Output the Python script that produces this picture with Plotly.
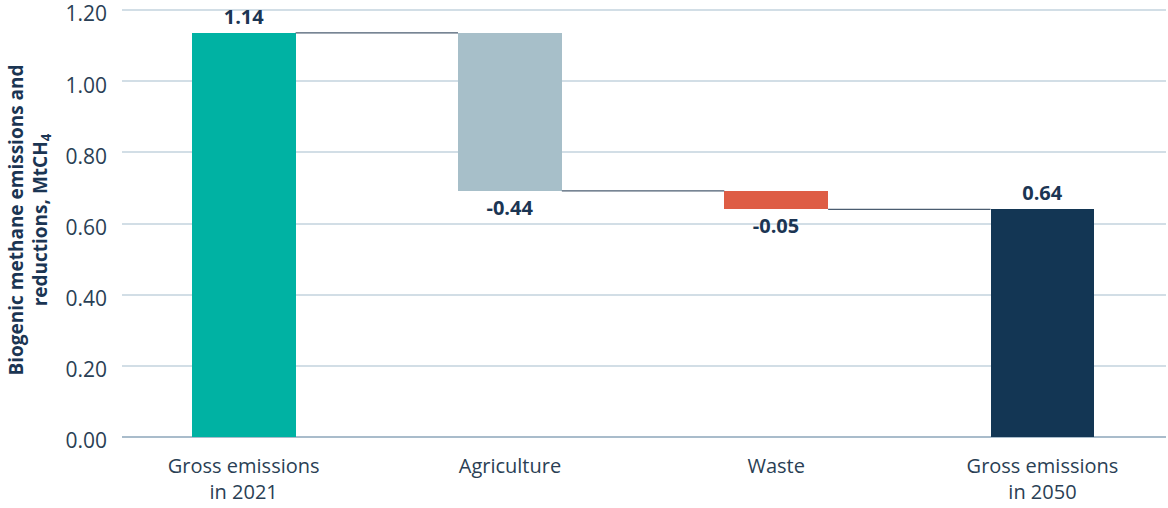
import plotly.graph_objects as go

# Waterfall data: biogenic methane, MtCH4
categories = ["Gross emissions<br>in 2021", "Agriculture", "Waste", "Gross emissions<br>in 2050"]
start_2021 = 1.136
changes = [-0.444, -0.052]
colors = ["#00B2A3", "#A7BFC9", "#DE5D45", "#133654"]
y_ticks = [0.0, 0.2, 0.4, 0.6, 0.8, 1.0, 1.2]

# Build bases and heights for the floating bars
levels = [start_2021]
for c in changes:
    levels.append(levels[-1] + c)
end_2050 = levels[-1]

values = [start_2021] + changes + [end_2050]
bases = [0.0] + levels[:-1] + [0.0]
xs = list(range(len(categories)))
bar_w = 0.39

NAVY = "#1B3553"
FONT = "Open Sans"

fig = go.Figure()

# Connector lines between consecutive bars at the running total
for i in range(len(categories) - 1):
    lvl = levels[i]
    fig.add_trace(go.Scatter(
        x=[xs[i] + bar_w / 2, xs[i + 1] - bar_w / 2],
        y=[lvl, lvl],
        mode="lines",
        line=dict(color="#4A5D70", width=1.3),
        hoverinfo="skip",
        showlegend=False,
    ))

fig.add_trace(go.Bar(
    x=xs,
    y=values,
    base=bases,
    width=bar_w,
    marker=dict(color=colors, line=dict(width=0)),
    texttemplate="%{y:.2f}",
    textposition="outside",
    outsidetextfont=dict(family=FONT, size=20, color=NAVY, weight="bold"),
    cliponaxis=False,
    showlegend=False,
))

fig.update_layout(
    width=1168,
    height=508,
    margin=dict(l=122, r=2, t=3, b=71),
    paper_bgcolor="white",
    plot_bgcolor="white",
    font=dict(family=FONT, color="#2A3F55"),
    bargap=0,
)

fig.update_xaxes(
    range=[-0.457, 3.464],
    tickmode="array",
    tickvals=xs,
    ticktext=categories,
    tickfont=dict(size=20, color="#2A3F55"),
    ticklabelstandoff=15,
    automargin=False,
    showgrid=False,
    zeroline=False,
    showline=False,
    ticks="",
)

fig.update_yaxes(
    range=[0, 1.22],
    tickmode="array",
    tickvals=y_ticks,
    tickformat=".2f",
    tickfont=dict(size=21, color="#2A3F55"),
    ticklabeloverflow="allow",
    ticklabelshift=4,
    automargin=False,
    showgrid=True,
    gridcolor="#D2DEE6",
    gridwidth=1.5,
    zeroline=True,
    zerolinecolor="#A9BCCB",
    zerolinewidth=2,
    ticks="",
    ticklabelstandoff=14,
    title=dict(
        text="Biogenic methane emissions and<br>reductions, MtCH<sub>4</sub>",
        font=dict(family=FONT, size=19, color=NAVY, weight="bold"),
        standoff=12,
    ),
)

fig.write_html("out.html")
